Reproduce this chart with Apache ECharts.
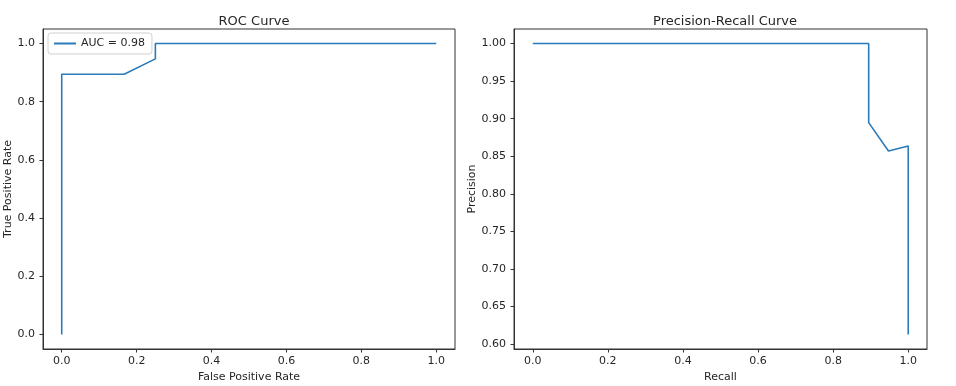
<!DOCTYPE html>
<html>
<head>
<meta charset="utf-8">
<script src="https://cdn.jsdelivr.net/npm/echarts@6/dist/echarts.min.js"></script>
<style>
html,body{margin:0;padding:0;background:#fff;}
#c{width:956px;height:386px;}
</style>
</head>
<body>
<div id="c"></div>
<script>
// ROC curve points
const rocFpr = [0.0, 0.0, 0.1667, 0.25, 0.25, 1.0];
const rocTpr = [0.0, 0.8947, 0.8947, 0.9474, 1.0, 1.0];
const rocLabel = 'AUC = 0.98';
// Precision-Recall curve points
const prRecall = [1.0, 1.0, 0.9474, 0.8947, 0.8947, 0.0];
const prPrecision = [0.6129, 0.8636, 0.8571, 0.8947, 1.0, 1.0];
// tick labels
const xTicks = [0.0, 0.2, 0.4, 0.6, 0.8, 1.0];
const rocYTicks = [0.0, 0.2, 0.4, 0.6, 0.8, 1.0];
const prYTicks = [0.60, 0.65, 0.70, 0.75, 0.80, 0.85, 0.90, 0.95, 1.00];

const FONT = 'DejaVu Sans';
const lineColor = '#2b7bba';
const txt = '#262626';

function xAxisCfg(gridIndex, name) {
  return {
    type: 'value', gridIndex, min: -0.05, max: 1.05,
    name, nameLocation: 'middle', nameGap: 23,
    nameTextStyle: {fontFamily: FONT, fontSize: 11, color: txt},
    splitLine: {show: false},
    axisLine: {show: true, onZero: false, lineStyle: {color: '#333', width: 1}},
    axisTick: {show: true, length: 3.5, lineStyle: {color: '#333'}, customValues: xTicks},
    axisLabel: {fontFamily: FONT, fontSize: 11, color: txt, margin: 7,
      customValues: xTicks, formatter: v => v.toFixed(1)}
  };
}
function yAxisCfg(gridIndex, name, min, max, ticks, dec, gap) {
  return {
    type: 'value', gridIndex, min, max,
    name, nameLocation: 'middle', nameGap: gap, nameRotate: 90,
    nameTextStyle: {fontFamily: FONT, fontSize: 11, color: txt},
    splitLine: {show: false},
    axisLine: {show: true, onZero: false, lineStyle: {color: '#333', width: 1}},
    axisTick: {show: true, length: 3.5, lineStyle: {color: '#333'}, customValues: ticks},
    axisLabel: {fontFamily: FONT, fontSize: 11, color: txt, margin: 8,
      customValues: ticks, formatter: v => v.toFixed(dec)}
  };
}

const chart = echarts.init(document.getElementById('c'), null, {renderer: 'canvas'});
chart.setOption({
  animation: false,
  backgroundColor: '#fff',
  title: [
    {text: 'ROC Curve', left: 249, top: 10, textAlign: 'center',
     textStyle: {fontFamily: FONT, fontSize: 13, fontWeight: 'normal', color: txt}},
    {text: 'Precision-Recall Curve', left: 720, top: 10, textAlign: 'center',
     textStyle: {fontFamily: FONT, fontSize: 13, fontWeight: 'normal', color: txt}}
  ],
  legend: {
    data: [rocLabel], left: 48, top: 33,
    itemWidth: 22, itemHeight: 2, itemGap: 6,
    padding: [5, 7, 5, 6],
    borderColor: '#d0d0d0', borderWidth: 1, borderRadius: 3,
    backgroundColor: 'rgba(255,255,255,0.8)',
    icon: 'rect',
    textStyle: {fontFamily: FONT, fontSize: 11, color: txt}
  },
  grid: [
    {left: 43, top: 29, width: 412, height: 320, show: true, borderColor: '#333', borderWidth: 1,
     backgroundColor: 'transparent', outerBoundsMode: 'none', containLabel: false},
    {left: 514, top: 29, width: 413, height: 320, show: true, borderColor: '#333', borderWidth: 1,
     backgroundColor: 'transparent', outerBoundsMode: 'none', containLabel: false}
  ],
  xAxis: [xAxisCfg(0, 'False Positive Rate'), xAxisCfg(1, 'Recall')],
  yAxis: [
    yAxisCfg(0, 'True Positive Rate', -0.05, 1.05, rocYTicks, 1, 29),
    yAxisCfg(1, 'Precision', 0.5936, 1.0193, prYTicks, 2, 36)
  ],
  series: [
    {name: rocLabel, type: 'line', xAxisIndex: 0, yAxisIndex: 0, showSymbol: false,
     lineStyle: {color: lineColor, width: 1.6}, itemStyle: {color: lineColor},
     data: rocFpr.map((x, i) => [x, rocTpr[i]])},
    {name: 'PR', type: 'line', xAxisIndex: 1, yAxisIndex: 1, showSymbol: false,
     lineStyle: {color: lineColor, width: 1.6}, itemStyle: {color: lineColor},
     data: prRecall.map((x, i) => [x, prPrecision[i]])}
  ]
});
</script>
</body>
</html>
